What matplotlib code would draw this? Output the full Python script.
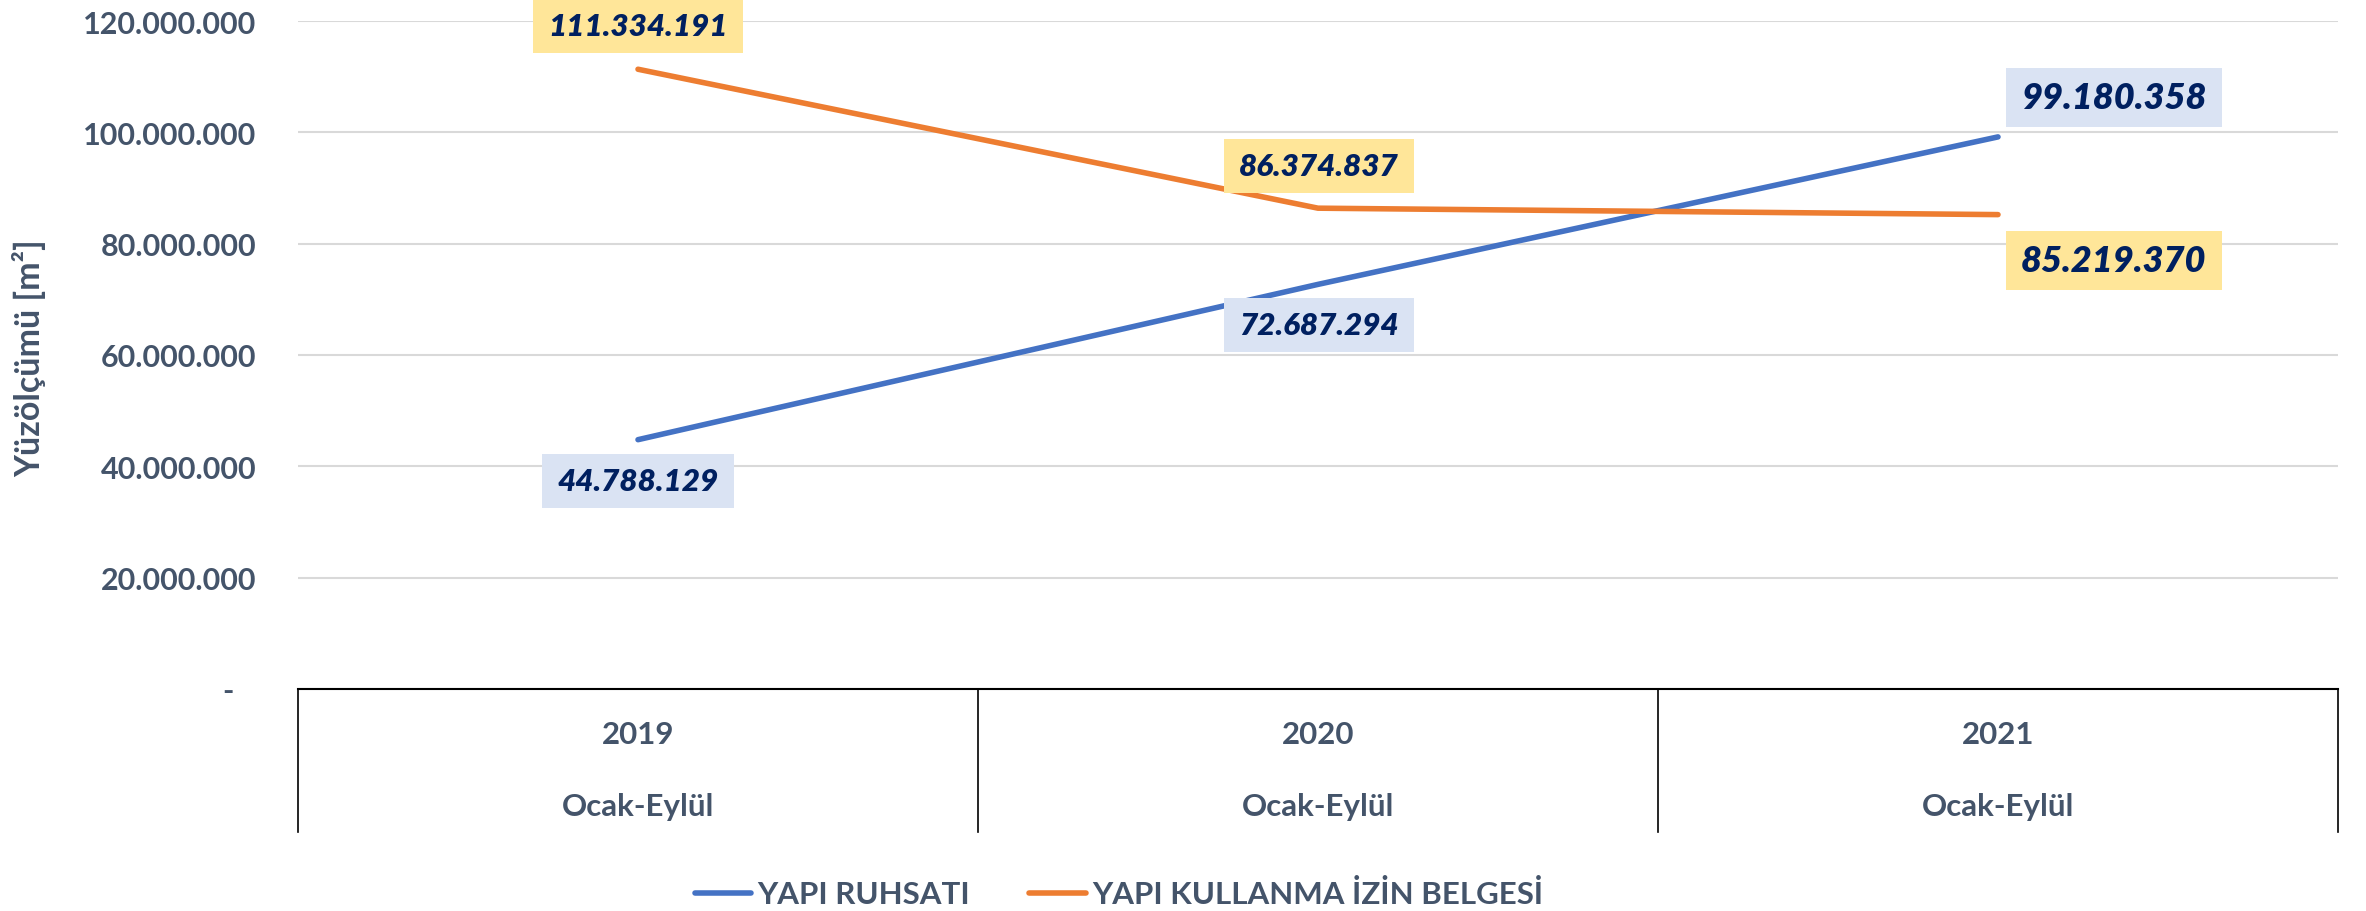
import matplotlib
matplotlib.use("Agg")
import matplotlib.pyplot as plt
from matplotlib.patches import Rectangle
from matplotlib.transforms import IdentityTransform, blended_transform_factory
from matplotlib.ticker import FuncFormatter

plt.rcParams["font.family"] = ["Lato", "DejaVu Sans"]
plt.rcParams["font.weight"] = "bold"

#data
years = ["2019", "2020", "2021"]
periods = ["Ocak-Eylül", "Ocak-Eylül", "Ocak-Eylül"]
yapi_ruhsati = [44788129, 72687294, 99180358]
kullanma_izin = [111334191, 86374837, 85219370]
series_names = ["YAPI RUHSATI", "YAPI KULLANMA İZİN BELGESİ"]
yticks = [0, 20000000, 40000000, 60000000, 80000000, 100000000, 120000000]

#styling
BLUE = "#4472C4"
ORANGE = "#ED7D31"
BLUE_BOX = "#DAE3F3"
YELLOW_BOX = "#FFE699"
TXT = "#44546A"
NAVY = "#002060"

#label offsets in pixels (dx, dy) and font sizes per point
blue_offsets = [(0, -41), (1, -41), (116, 39)]
orange_offsets = [(0, 43), (1, 42), (116, -46)]
label_sizes = [22.6, 22.6, 26]


def tr_fmt(v):
    return f"{int(v):,}".replace(",", ".")


fig = plt.figure(figsize=(23.66, 9.12), dpi=100)
ax = fig.add_axes([298 / 2366, 1 - 690 / 912, 2040 / 2366, 668 / 912])

x = list(range(len(years)))
ax.plot(x, yapi_ruhsati, color=BLUE, lw=4, solid_capstyle="round", zorder=3, label=series_names[0])
ax.plot(x, kullanma_izin, color=ORANGE, lw=4, solid_capstyle="round", zorder=4, label=series_names[1])

ax.set_xlim(-0.5, len(years) - 0.5)
ax.set_ylim(0, 120000000)
ax.set_yticks(yticks)
ax.yaxis.set_major_formatter(FuncFormatter(lambda v, p: "-   " if v == 0 else tr_fmt(v)))
ax.tick_params(axis="y", length=0, pad=30, labelsize=22, labelcolor=TXT)
ax.set_xticks([])
ax.grid(axis="y", color="#D9D9D9", lw=1.5, zorder=0)
ax.set_axisbelow(True)
for s in ["top", "right", "left"]:
    ax.spines[s].set_visible(False)
ax.spines["bottom"].set_color("black")
ax.spines["bottom"].set_linewidth(1.5)

#category table under the axis
trans = blended_transform_factory(ax.transData, ax.transAxes)
for b in [i - 0.5 for i in range(len(years) + 1)]:
    ax.plot([b, b], [0, -0.214], color="black", lw=1.2, transform=trans, clip_on=False)
for i in x:
    ax.text(i, -0.068, years[i], transform=trans, ha="center", va="center", fontsize=22.5, color=TXT)
    ax.text(i, -0.175, periods[i], transform=trans, ha="center", va="center", fontsize=22.5, color=TXT)

fig.text(29 / 2366, 1 - 358 / 912, "Yüzölçümü [m²]", rotation=90, ha="center", va="center",
         fontsize=24.5, color=TXT)

#data labels
labels = []
for vals, offs, fc in [(yapi_ruhsati, blue_offsets, BLUE_BOX), (kullanma_izin, orange_offsets, YELLOW_BOX)]:
    for i, v in enumerate(vals):
        t = ax.annotate(tr_fmt(v), (i, v), xytext=offs[i], textcoords="offset pixels",
                        ha="center", va="center", fontsize=label_sizes[i], style="italic",
                        fontweight="heavy", color=NAVY, zorder=7, annotation_clip=False)
        labels.append((t, fc))

leg = fig.legend(loc="center", bbox_to_anchor=(1119 / 2366, 1 - 895 / 912), ncol=2, frameon=False,
                 fontsize=22.5, handlelength=1.8, handletextpad=0.2, columnspacing=1.9)
for txt in leg.get_texts():
    txt.set_color(TXT)

#boxes behind labels sized from the rendered text
fig.canvas.draw()
r = fig.canvas.get_renderer()
for t, fc in labels:
    bb = t.get_window_extent(r)
    padx, pady = 15, 13
    ax.add_artist(Rectangle((bb.x0 - padx, bb.y0 - pady), bb.width + 2 * padx, bb.height + 2 * pady,
                            transform=IdentityTransform(), facecolor=fc, edgecolor="none",
                            zorder=6, clip_on=False))

fig.savefig("out.png", dpi=100)
